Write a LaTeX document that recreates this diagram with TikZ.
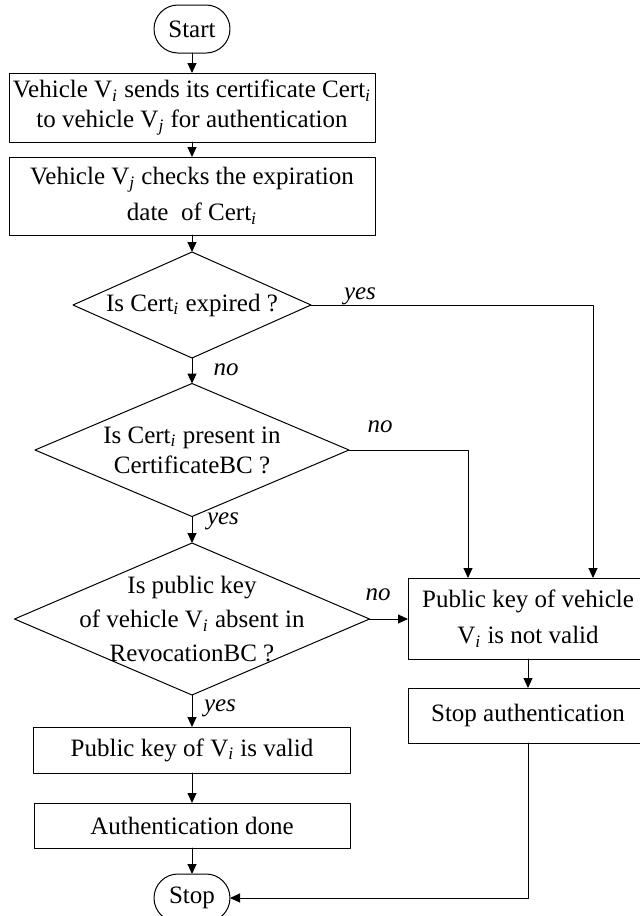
\documentclass[tikz,border=0pt]{standalone}
\usepackage{fontspec}
\setmainfont{Liberation Serif}
\usetikzlibrary{shapes.geometric,arrows.meta}
\newcommand{\idx}[1]{\textsubscript{\textit{#1}}}
\begin{document}
\begin{tikzpicture}[x=0.5pt, y=-0.5pt, line width=0.5pt, line cap=round, line join=round,
  font=\fontsize{12.5}{15}\selectfont,
  every node/.style={outer sep=0pt},
  term/.style={draw, rounded corners=12pt, minimum width=38pt, minimum height=24pt, inner sep=0pt},
  proc/.style={draw, align=center, inner sep=0pt},
  decide/.style={draw, diamond, align=center, inner sep=-6pt},
  lbl/.style={font=\fontsize{12.5}{15}\selectfont\itshape, inner sep=0pt},
  >={Triangle[length=5pt,width=4.5pt]}]
\useasboundingbox (0,0) rectangle (640,916);
% 开始与结束
\node[term] (start) at (192, 29) {Start};
\node[term] (stop)  at (192, 898) {Stop};
% 处理框
\node[proc, minimum width=183pt, minimum height=34.5pt] (send) at (192, 107.5)
  {Vehicle V\idx{i} sends its certificate Cert\idx{i}\\to vehicle V\idx{j} for authentication};
\node[proc, minimum width=183pt, minimum height=39pt, font=\fontsize{12.5}{18}\selectfont] (check) at (192, 196)
  {Vehicle V\idx{j} checks the expiration\\date~ of Cert\idx{i}};
\node[proc, minimum width=120pt, minimum height=40.5pt, font=\fontsize{12.5}{18}\selectfont] (invalid) at (528, 618.5)
  {Public key of vehicle\\V\idx{i} is not valid};
\node[proc, minimum width=120pt, minimum height=27.5pt] (abort) at (528, 715.5) {Stop authentication};
\node[proc, minimum width=158.5pt, minimum height=23pt] (valid) at (192, 750) {Public key of V\idx{i} is valid};
\node[proc, minimum width=158pt, minimum height=22.5pt] (done) at (192, 825.5) {Authentication done};
% 判断框
\node[decide, shape aspect=2.25, minimum width=119pt, minimum height=53pt] (expired) at (192, 305)
  {Is Cert\idx{i} expired ?};
\node[decide, shape aspect=2.34, minimum width=157pt, minimum height=66.5pt] (present) at (192, 450)
  {Is Cert\idx{i} present in\\CertificateBC ?};
\node[decide, shape aspect=2.34, minimum width=177.5pt, minimum height=76pt, font=\fontsize{12.5}{17}\selectfont] (absent) at (192, 619)
  {Is public key\\of vehicle V\idx{i} absent in\\RevocationBC ?};
% 入口点
\coordinate (inA) at (468, 578);
\coordinate (inB) at (593, 578);
% 主干
\draw[->] (start) -- (send);
\draw[->] (send) -- (check);
\draw[->] (check) -- (expired);
\draw[->] (expired) -- (present);
\draw[->] (present) -- (absent);
\draw[->] (absent) -- (valid);
\draw[->] (valid) -- (done);
\draw[->] (done) -- (stop);
% 分支
\draw[->] (expired.east) -| (inB);
\draw[->] (present.east) -| (inA);
\draw[->] (absent.east) -- (absent.east -| invalid.west);
\draw[->] (invalid) -- (abort);
\draw[->] (abort.south) |- (stop.east);
% 标签
\node[lbl] (y1) at (360, 296) {yes};
\node[lbl] (n1) at (226, 370) {no};
\node[lbl] (n2) at (380, 427) {no};
\node[lbl] (y2) at (223, 521) {yes};
\node[lbl] (n3) at (378, 595) {no};
\node[lbl] (y3) at (220, 708) {yes};
\end{tikzpicture}
\end{document}
